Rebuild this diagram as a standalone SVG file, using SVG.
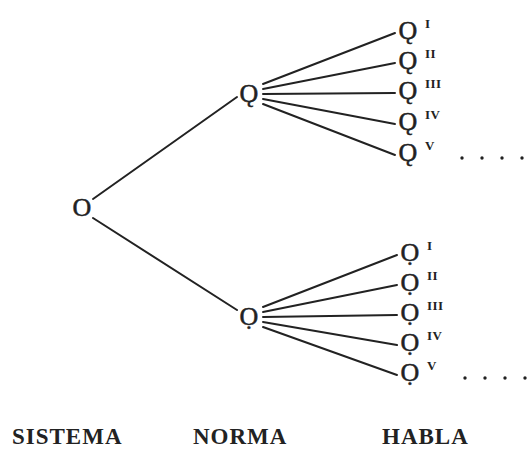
<svg xmlns="http://www.w3.org/2000/svg" width="530" height="453" viewBox="0 0 530 453">
<style>
.n{font-family:"Liberation Serif","DejaVu Serif",serif;font-size:26px;text-anchor:middle;fill:#222;stroke:#222;stroke-width:0.5}
.r{font-family:"Liberation Serif","DejaVu Serif",serif;font-size:13px;font-weight:bold;fill:#222;letter-spacing:0.5px}
.l{font-family:"Liberation Serif","DejaVu Serif",serif;font-size:23px;font-weight:bold;fill:#222;letter-spacing:1px}
.c line{stroke:#222;stroke-width:2;stroke-linecap:round}
.d circle{fill:#222}
</style>
<rect width="530" height="453" fill="#fff"/>
<g class="c" id="connectors">
<line x1="93" y1="199" x2="237" y2="97"/>
<line x1="93" y1="218" x2="237" y2="310"/>
<line x1="263" y1="84" x2="395" y2="33"/>
<line x1="263" y1="89" x2="395" y2="63"/>
<line x1="263" y1="94" x2="395" y2="93"/>
<line x1="263" y1="99" x2="395" y2="124"/>
<line x1="263" y1="104" x2="395" y2="155"/>
<line x1="263" y1="307" x2="397" y2="255"/>
<line x1="263" y1="312" x2="397" y2="285"/>
<line x1="263" y1="317" x2="397" y2="315"/>
<line x1="263" y1="322" x2="397" y2="345"/>
<line x1="263" y1="327" x2="397" y2="375"/>
</g>
<g id="sistema"><text class="n" x="82" y="216">O</text></g>
<g id="norma1"><text class="n" x="249" y="102">Ǫ</text></g>
<g id="norma2"><text class="n" x="249" y="325">Ọ</text></g>
<g id="habla1">
<text class="n" x="408" y="39">Ǫ</text><text class="r" x="425" y="28">I</text>
<text class="n" x="408" y="69">Ǫ</text><text class="r" x="425" y="58">II</text>
<text class="n" x="408" y="99">Ǫ</text><text class="r" x="425" y="88">III</text>
<text class="n" x="408" y="130">Ǫ</text><text class="r" x="425" y="119">IV</text>
<text class="n" x="408" y="161">Ǫ</text><text class="r" x="425" y="150">V</text>
</g>
<g id="habla2">
<text class="n" x="410" y="261">Ọ</text><text class="r" x="427" y="250">I</text>
<text class="n" x="410" y="291">Ọ</text><text class="r" x="427" y="280">II</text>
<text class="n" x="410" y="321">Ọ</text><text class="r" x="427" y="310">III</text>
<text class="n" x="410" y="351">Ọ</text><text class="r" x="427" y="340">IV</text>
<text class="n" x="410" y="381">Ọ</text><text class="r" x="427" y="370">V</text>
</g>
<g class="d" id="dots">
<circle cx="462" cy="158" r="1.7"/><circle cx="482" cy="158" r="1.7"/><circle cx="502" cy="158" r="1.7"/><circle cx="522" cy="158" r="1.7"/>
<circle cx="465" cy="378" r="1.7"/><circle cx="485" cy="378" r="1.7"/><circle cx="505" cy="378" r="1.7"/><circle cx="525" cy="378" r="1.7"/>
</g>
<g id="labels">
<text class="l" x="12" y="444">SISTEMA</text>
<text class="l" x="193" y="444">NORMA</text>
<text class="l" x="382" y="444">HABLA</text>
</g>
</svg>
